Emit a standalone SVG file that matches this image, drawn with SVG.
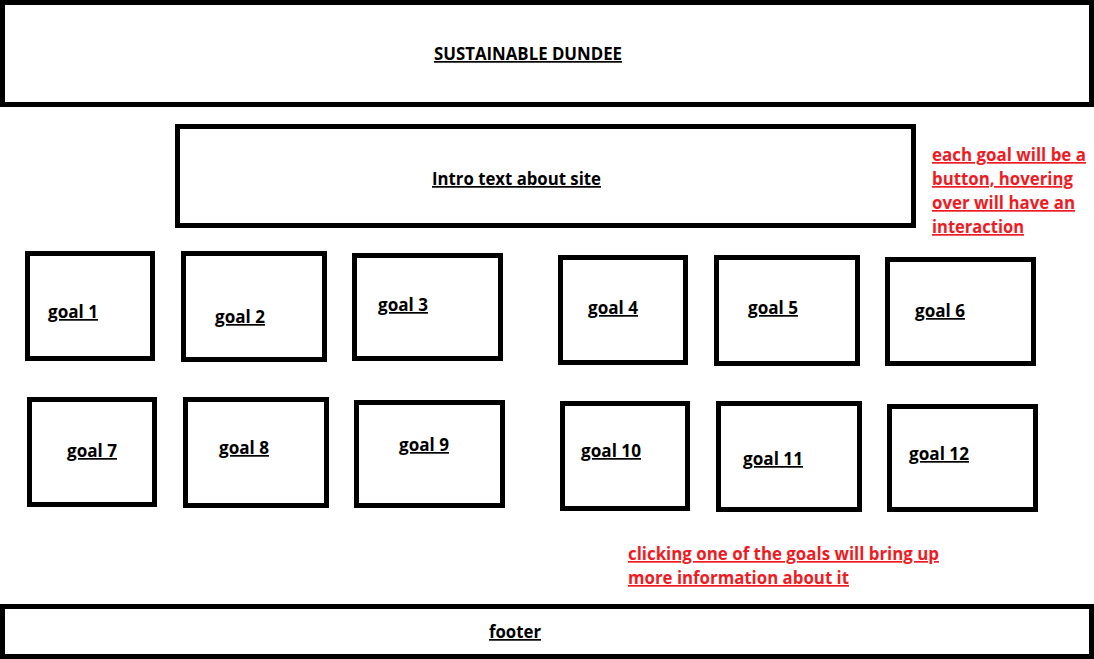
<svg xmlns="http://www.w3.org/2000/svg" width="1094" height="659" viewBox="0 0 1094 659">
<style>
.box{fill:#fff;stroke:#000;stroke-width:5}
.t{font-family:"Open Sans","Noto Sans",sans-serif;font-weight:700;font-size:17px;fill:#000;text-decoration:underline}
.r{font-family:"Open Sans","Noto Sans",sans-serif;font-weight:700;font-size:17px;fill:#ed1c24;text-decoration:underline}
</style>
<rect width="1094" height="659" fill="#fff"/>
<g id="header"><rect class="box" x="2.5" y="2.5" width="1089" height="102"/><text class="t" x="434" y="60" textLength="188" lengthAdjust="spacingAndGlyphs">SUSTAINABLE DUNDEE</text></g>
<g id="intro"><rect class="box" x="177.5" y="126.5" width="736" height="99"/><text class="t" x="432" y="185" textLength="169" lengthAdjust="spacingAndGlyphs">Intro text about site</text></g>
<g id="goal1"><rect class="box" x="27.5" y="253.5" width="125" height="105"/><text class="t" x="48" y="318" textLength="50" lengthAdjust="spacingAndGlyphs">goal 1</text></g>
<g id="goal2"><rect class="box" x="183.5" y="253.5" width="141" height="106"/><text class="t" x="215" y="323" textLength="50" lengthAdjust="spacingAndGlyphs">goal 2</text></g>
<g id="goal3"><rect class="box" x="354.5" y="255.5" width="146" height="103"/><text class="t" x="378" y="311" textLength="50" lengthAdjust="spacingAndGlyphs">goal 3</text></g>
<g id="goal4"><rect class="box" x="560.5" y="257.5" width="125" height="105"/><text class="t" x="588" y="314" textLength="50" lengthAdjust="spacingAndGlyphs">goal 4</text></g>
<g id="goal5"><rect class="box" x="716.5" y="257.5" width="141" height="106"/><text class="t" x="748" y="314" textLength="50" lengthAdjust="spacingAndGlyphs">goal 5</text></g>
<g id="goal6"><rect class="box" x="887.5" y="259.5" width="146" height="104"/><text class="t" x="915" y="317" textLength="50" lengthAdjust="spacingAndGlyphs">goal 6</text></g>
<g id="goal7"><rect class="box" x="29.5" y="399.5" width="125" height="105"/><text class="t" x="67" y="457" textLength="50" lengthAdjust="spacingAndGlyphs">goal 7</text></g>
<g id="goal8"><rect class="box" x="185.5" y="399.5" width="141" height="106"/><text class="t" x="219" y="454" textLength="50" lengthAdjust="spacingAndGlyphs">goal 8</text></g>
<g id="goal9"><rect class="box" x="356.5" y="402.5" width="146" height="103"/><text class="t" x="399" y="451" textLength="50" lengthAdjust="spacingAndGlyphs">goal 9</text></g>
<g id="goal10"><rect class="box" x="562.5" y="403.5" width="125" height="105"/><text class="t" x="581" y="457" textLength="60" lengthAdjust="spacingAndGlyphs">goal 10</text></g>
<g id="goal11"><rect class="box" x="718.5" y="403.5" width="141" height="106"/><text class="t" x="743" y="465" textLength="60" lengthAdjust="spacingAndGlyphs">goal 11</text></g>
<g id="goal12"><rect class="box" x="889.5" y="406.5" width="146" height="103"/><text class="t" x="909" y="460" textLength="60" lengthAdjust="spacingAndGlyphs">goal 12</text></g>
<g id="footer"><rect class="box" x="2.5" y="606.5" width="1089" height="50"/><text class="t" x="489" y="638" textLength="52" lengthAdjust="spacingAndGlyphs">footer</text></g>
<g id="note-goals">
<text class="r" x="932" y="161" textLength="154" lengthAdjust="spacingAndGlyphs">each goal will be a</text>
<text class="r" x="932" y="185" textLength="141" lengthAdjust="spacingAndGlyphs">button, hovering</text>
<text class="r" x="932" y="209" textLength="143" lengthAdjust="spacingAndGlyphs">over will have an</text>
<text class="r" x="932" y="233" textLength="92" lengthAdjust="spacingAndGlyphs">interaction</text>
</g>
<g id="note-click">
<text class="r" x="628" y="560" textLength="311" lengthAdjust="spacingAndGlyphs">clicking one of the goals will bring up</text>
<text class="r" x="628" y="584" textLength="221" lengthAdjust="spacingAndGlyphs">more information about it</text>
</g>
<g id="connectors"/>
</svg>
